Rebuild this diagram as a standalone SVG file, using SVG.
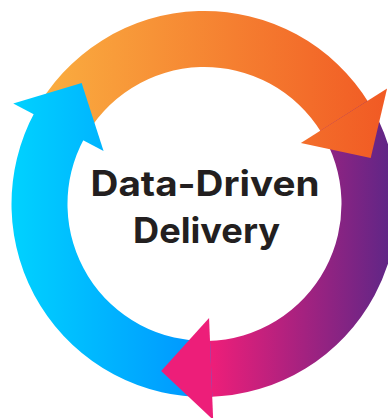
<svg xmlns="http://www.w3.org/2000/svg" width="388" height="418" viewBox="0 0 388 418">
  <style>
    .label { font-family: "Inter", "Open Sans", "Liberation Sans", sans-serif; font-weight: 700; font-size: 35px; fill: #231F20; text-anchor: middle; }
  </style>
  <defs>
    <linearGradient id="gOrange" gradientUnits="userSpaceOnUse" x1="40" y1="0" x2="385" y2="0">
      <stop offset="0" stop-color="#FAAE40"/>
      <stop offset="1" stop-color="#F15A24"/>
    </linearGradient>
    <linearGradient id="gPurple" gradientUnits="userSpaceOnUse" x1="212" y1="0" x2="397" y2="0">
      <stop offset="0" stop-color="#ED1E79"/>
      <stop offset="1" stop-color="#5A2687"/>
    </linearGradient>
    <linearGradient id="gBlue" gradientUnits="userSpaceOnUse" x1="12" y1="0" x2="200" y2="0">
      <stop offset="0" stop-color="#00D2FF"/>
      <stop offset="1" stop-color="#0096FF"/>
    </linearGradient>
  </defs>
  <rect width="388" height="418" fill="#FFFFFF"/>
  <g id="connectors">
    <g id="arc-orange">
      <path fill="url(#gOrange)" d="M33.62,114.29 A193,193 0 0 1 369.41,103.73 L321.56,132.83 A137,137 0 0 0 83.20,140.32 Z"/>
    </g>
    <g id="arc-purple">
      <path fill="url(#gPurple)" d="M367.64,100.87 A193,193 0 0 1 208.88,396.95 L207.61,340.96 A137,137 0 0 0 320.30,130.79 Z"/>
    </g>
    <g id="arc-blue">
      <path fill="url(#gBlue)" d="M212.25,396.84 A193,193 0 0 1 35.21,111.32 L84.33,138.21 A137,137 0 0 0 210.00,340.89 Z"/>
    </g>
    <g id="arrowheads">
      <polygon fill="url(#gOrange)" points="387.08,88.58 370.7,158.1 300.86,143.08"/>
      <polygon fill="url(#gPurple)" points="213.17,419.83 161.16,370.88 209.07,317.91"/>
      <polygon fill="url(#gBlue)" points="13.26,103.59 81.65,83.03 103.57,151.01"/>
    </g>
  </g>
  <g id="center-label">
    <text class="label" x="205" y="195.5" textLength="229" lengthAdjust="spacingAndGlyphs">Data-Driven</text>
    <text class="label" x="206.5" y="242.5" textLength="147" lengthAdjust="spacingAndGlyphs">Delivery</text>
  </g>
</svg>
